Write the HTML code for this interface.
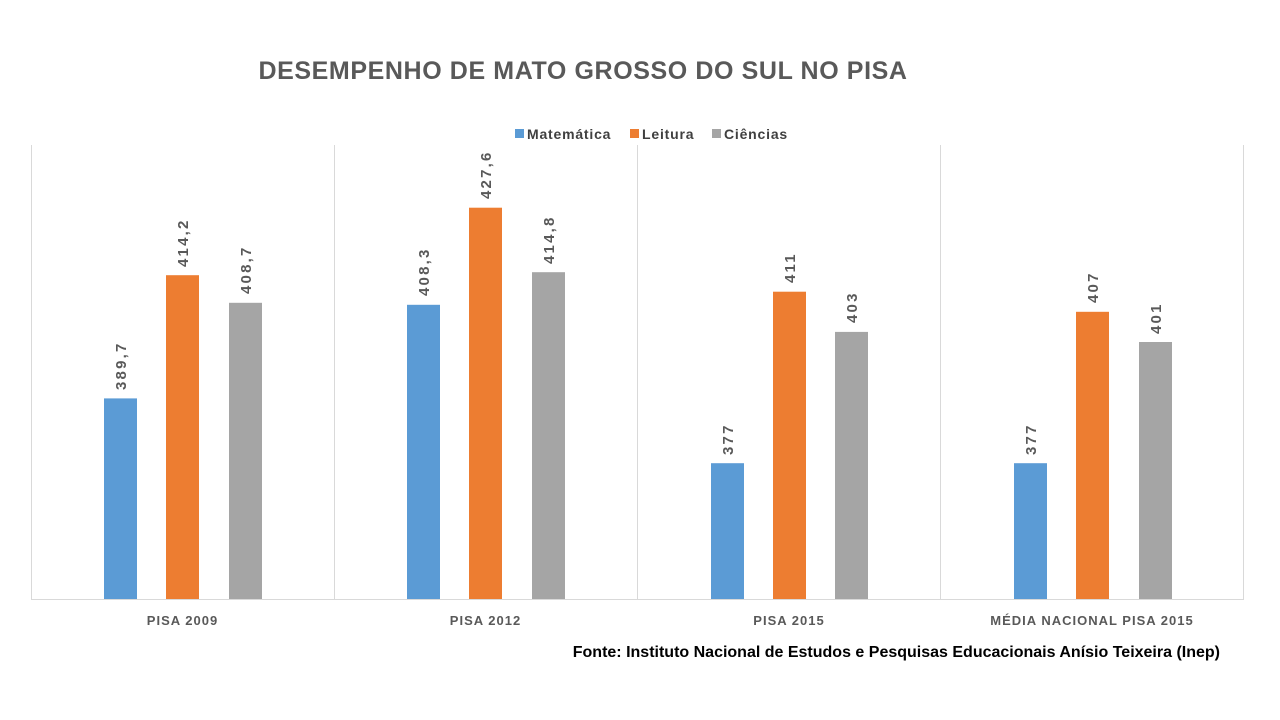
<!DOCTYPE html>
<html><head><meta charset="utf-8"><style>body{margin:0;background:#fff}svg{display:block}</style></head>
<body>
<svg width="1280" height="720" xmlns="http://www.w3.org/2000/svg" font-family="Liberation Sans, sans-serif">
<rect width="1280" height="720" fill="#fff"/>
<text x="583" y="79" text-anchor="middle" font-size="25" font-weight="bold" fill="#595959" letter-spacing="0.6">DESEMPENHO DE MATO GROSSO DO SUL NO PISA</text>
<g font-size="14" font-weight="bold" fill="#404040" letter-spacing="0.8">
<rect x="515" y="129" width="9" height="9" fill="#5b9bd5"/><text x="527" y="139">Matemática</text>
<rect x="630" y="129" width="9" height="9" fill="#ed7d31"/><text x="642" y="139">Leitura</text>
<rect x="712" y="129" width="9" height="9" fill="#a5a5a5"/><text x="724" y="139">Ciências</text>
</g>
<g stroke="#d9d9d9" stroke-width="1">
<line x1="31.5" y1="145" x2="31.5" y2="599"/>
<line x1="334.5" y1="145" x2="334.5" y2="599"/>
<line x1="637.5" y1="145" x2="637.5" y2="599"/>
<line x1="940.5" y1="145" x2="940.5" y2="599"/>
<line x1="1243.5" y1="145" x2="1243.5" y2="599"/>
<line x1="31" y1="599.5" x2="1244" y2="599.5"/>
</g>
<g font-size="13" font-weight="bold" fill="#595959" letter-spacing="1" text-anchor="middle">
<text x="182.5" y="625">PISA 2009</text>
<text x="485.5" y="625">PISA 2012</text>
<text x="789" y="625">PISA 2015</text>
<text x="1092" y="625">MÉDIA NACIONAL PISA 2015</text>
</g>
<text x="1220" y="657" text-anchor="end" font-size="16" font-weight="bold" fill="#000">Fonte: Instituto Nacional de Estudos e Pesquisas Educacionais Anísio Teixeira (Inep)</text>
<g font-size="15" font-weight="bold" fill="#595959" letter-spacing="2.2">
<rect x="104" y="398.4" width="33" height="200.6" fill="#5b9bd5"/><text transform="translate(126,390) rotate(-90)">389,7</text>
<rect x="166" y="275.2" width="33" height="323.8" fill="#ed7d31"/><text transform="translate(188,267) rotate(-90)">414,2</text>
<rect x="229" y="302.8" width="33" height="296.2" fill="#a5a5a5"/><text transform="translate(251,294) rotate(-90)">408,7</text>

<rect x="407" y="304.8" width="33" height="294.2" fill="#5b9bd5"/><text transform="translate(429,296) rotate(-90)">408,3</text>
<rect x="469" y="207.7" width="33" height="391.3" fill="#ed7d31"/><text transform="translate(491,199) rotate(-90)">427,6</text>
<rect x="532" y="272.2" width="33" height="326.8" fill="#a5a5a5"/><text transform="translate(554,264) rotate(-90)">414,8</text>

<rect x="711" y="463.2" width="33" height="135.8" fill="#5b9bd5"/><text transform="translate(733,455) rotate(-90)">377</text>
<rect x="773" y="291.7" width="33" height="307.3" fill="#ed7d31"/><text transform="translate(795,283) rotate(-90)">411</text>
<rect x="835" y="331.9" width="33" height="267.1" fill="#a5a5a5"/><text transform="translate(857,323) rotate(-90)">403</text>

<rect x="1014" y="463.2" width="33" height="135.8" fill="#5b9bd5"/><text transform="translate(1036,455) rotate(-90)">377</text>
<rect x="1076" y="311.8" width="33" height="287.2" fill="#ed7d31"/><text transform="translate(1098,303) rotate(-90)">407</text>
<rect x="1139" y="342" width="33" height="257" fill="#a5a5a5"/><text transform="translate(1161,334) rotate(-90)">401</text>
</g>
</svg>
</body></html>
